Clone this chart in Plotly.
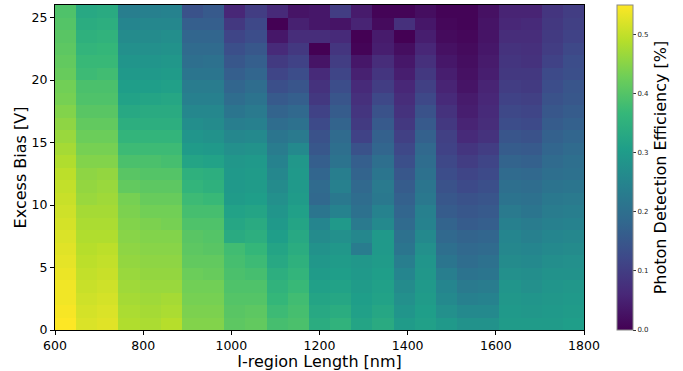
import numpy as np
import plotly.graph_objects as go

# Bin edges of the grid
length_edges = [600, 648, 696, 744, 792, 840, 888, 936, 984, 1032, 1080, 1128, 1176,
                1224, 1272, 1320, 1368, 1416, 1464, 1512, 1560, 1608, 1656, 1704, 1752, 1800]
bias_edges = list(range(0, 27))

x_ticks = [600, 800, 1000, 1200, 1400, 1600, 1800]
y_ticks = [0, 5, 10, 15, 20, 25]
cbar_ticks = [0.0, 0.1, 0.2, 0.3, 0.4, 0.5]

# PDE per I-region length bin, listed from 0 V (bottom) to 25 V (top)
pde_600 = [0.55, 0.545, 0.54, 0.54, 0.535, 0.53, 0.525, 0.52, 0.515, 0.51, 0.505, 0.50, 0.495,
           0.485, 0.475, 0.465, 0.455, 0.445, 0.435, 0.43, 0.42, 0.415, 0.41, 0.405, 0.40, 0.395]
pde_648 = [0.52, 0.515, 0.51, 0.505, 0.50, 0.495, 0.49, 0.485, 0.48, 0.475, 0.465, 0.46, 0.455,
           0.445, 0.435, 0.425, 0.415, 0.405, 0.395, 0.39, 0.375, 0.37, 0.36, 0.35, 0.34, 0.33]
pde_696 = [0.525, 0.52, 0.515, 0.51, 0.505, 0.50, 0.495, 0.485, 0.48, 0.475, 0.47, 0.465, 0.46,
           0.445, 0.435, 0.425, 0.415, 0.405, 0.395, 0.39, 0.38, 0.37, 0.365, 0.355, 0.345, 0.335]
pde_744 = [0.485, 0.48, 0.475, 0.47, 0.465, 0.46, 0.455, 0.45, 0.445, 0.44, 0.435, 0.415, 0.405,
           0.39, 0.375, 0.36, 0.345, 0.33, 0.315, 0.305, 0.295, 0.285, 0.275, 0.265, 0.25, 0.235]
pde_792 = [0.48, 0.475, 0.47, 0.465, 0.46, 0.455, 0.45, 0.445, 0.44, 0.43, 0.42, 0.41, 0.40,
           0.39, 0.375, 0.36, 0.345, 0.335, 0.32, 0.305, 0.295, 0.285, 0.275, 0.265, 0.255, 0.24]
pde_840 = [0.49, 0.48, 0.475, 0.465, 0.46, 0.455, 0.45, 0.445, 0.435, 0.43, 0.42, 0.41, 0.40,
           0.385, 0.375, 0.36, 0.345, 0.335, 0.325, 0.31, 0.30, 0.29, 0.28, 0.27, 0.255, 0.245]
pde_888 = [0.445, 0.44, 0.435, 0.43, 0.425, 0.415, 0.41, 0.405, 0.395, 0.385, 0.375, 0.36, 0.35,
           0.32, 0.30, 0.285, 0.27, 0.255, 0.24, 0.23, 0.215, 0.20, 0.19, 0.18, 0.165, 0.14]
pde_936 = [0.445, 0.44, 0.435, 0.43, 0.42, 0.415, 0.405, 0.40, 0.395, 0.385, 0.37, 0.35, 0.345,
           0.315, 0.295, 0.28, 0.265, 0.255, 0.24, 0.23, 0.215, 0.205, 0.19, 0.18, 0.165, 0.155]
pde_984 = [0.41, 0.405, 0.40, 0.395, 0.39, 0.385, 0.38, 0.335, 0.325, 0.315, 0.30, 0.295, 0.295,
           0.29, 0.275, 0.255, 0.235, 0.215, 0.195, 0.18, 0.165, 0.15, 0.135, 0.115, 0.09, 0.06]
pde_1032 = [0.415, 0.41, 0.40, 0.395, 0.385, 0.375, 0.365, 0.345, 0.335, 0.32, 0.305, 0.30, 0.30,
            0.295, 0.28, 0.26, 0.24, 0.225, 0.21, 0.195, 0.18, 0.165, 0.15, 0.13, 0.12, 0.10]
pde_1080 = [0.385, 0.375, 0.365, 0.355, 0.345, 0.33, 0.32, 0.305, 0.295, 0.285, 0.275, 0.265, 0.255,
            0.245, 0.23, 0.215, 0.195, 0.175, 0.155, 0.135, 0.115, 0.095, 0.065, 0.035, 0.0, 0.065]
pde_1128 = [0.39, 0.385, 0.38, 0.37, 0.36, 0.35, 0.34, 0.33, 0.32, 0.31, 0.30, 0.295, 0.295,
            0.29, 0.26, 0.225, 0.205, 0.185, 0.165, 0.145, 0.13, 0.11, 0.09, 0.07, 0.05, 0.03]
pde_1176 = [0.34, 0.33, 0.32, 0.31, 0.30, 0.29, 0.28, 0.265, 0.25, 0.215, 0.185, 0.19, 0.18,
            0.165, 0.15, 0.14, 0.125, 0.11, 0.09, 0.08, 0.065, 0.03, 0.0, 0.07, 0.035, 0.035]
pde_1224 = [0.355, 0.34, 0.325, 0.315, 0.305, 0.30, 0.29, 0.275, 0.295, 0.245, 0.22, 0.24, 0.235,
            0.21, 0.20, 0.19, 0.175, 0.16, 0.145, 0.13, 0.115, 0.10, 0.085, 0.065, 0.03, 0.10]
pde_1272 = [0.32, 0.31, 0.305, 0.30, 0.295, 0.29, 0.23, 0.255, 0.225, 0.205, 0.195, 0.185, 0.175,
            0.165, 0.14, 0.11, 0.095, 0.085, 0.075, 0.065, 0.05, 0.035, 0.005, 0.0, 0.055, 0.04]
pde_1320 = [0.335, 0.325, 0.315, 0.31, 0.305, 0.30, 0.295, 0.295, 0.26, 0.245, 0.22, 0.225, 0.215,
            0.20, 0.18, 0.17, 0.155, 0.14, 0.12, 0.10, 0.085, 0.07, 0.045, 0.04, 0.015, 0.005]
pde_1368 = [0.30, 0.285, 0.275, 0.265, 0.25, 0.235, 0.215, 0.205, 0.19, 0.18, 0.17, 0.16, 0.15,
            0.135, 0.12, 0.105, 0.09, 0.08, 0.07, 0.06, 0.045, 0.035, 0.02, 0.0, 0.075, 0.005]
pde_1416 = [0.31, 0.305, 0.30, 0.295, 0.29, 0.285, 0.275, 0.26, 0.245, 0.24, 0.22, 0.215, 0.205,
            0.195, 0.185, 0.17, 0.155, 0.14, 0.12, 0.105, 0.09, 0.075, 0.06, 0.045, 0.035, 0.02]
pde_1464 = [0.295, 0.275, 0.26, 0.25, 0.235, 0.215, 0.20, 0.185, 0.175, 0.16, 0.15, 0.14, 0.13,
            0.12, 0.11, 0.105, 0.09, 0.08, 0.065, 0.055, 0.045, 0.035, 0.025, 0.015, 0.01, 0.005]
pde_1512 = [0.28, 0.26, 0.24, 0.225, 0.21, 0.195, 0.185, 0.175, 0.16, 0.15, 0.14, 0.125, 0.115,
            0.10, 0.085, 0.065, 0.055, 0.045, 0.04, 0.03, 0.025, 0.02, 0.015, 0.01, 0.005, 0.005]
pde_1560 = [0.28, 0.26, 0.245, 0.23, 0.215, 0.205, 0.19, 0.18, 0.165, 0.155, 0.145, 0.135, 0.125,
            0.115, 0.10, 0.08, 0.07, 0.065, 0.06, 0.055, 0.045, 0.04, 0.035, 0.03, 0.03, 0.025]
pde_1608 = [0.30, 0.295, 0.29, 0.285, 0.275, 0.265, 0.255, 0.25, 0.24, 0.225, 0.21, 0.20, 0.19,
            0.175, 0.16, 0.145, 0.13, 0.12, 0.11, 0.10, 0.09, 0.085, 0.08, 0.07, 0.06, 0.055]
pde_1656 = [0.30, 0.29, 0.285, 0.275, 0.27, 0.26, 0.25, 0.24, 0.23, 0.215, 0.205, 0.195, 0.185,
            0.17, 0.155, 0.14, 0.125, 0.115, 0.105, 0.095, 0.09, 0.08, 0.075, 0.07, 0.065, 0.055]
pde_1704 = [0.30, 0.295, 0.29, 0.285, 0.28, 0.27, 0.26, 0.25, 0.24, 0.23, 0.22, 0.21, 0.20,
            0.19, 0.18, 0.17, 0.16, 0.15, 0.14, 0.13, 0.125, 0.11, 0.10, 0.095, 0.09, 0.085]
pde_1752 = [0.305, 0.30, 0.295, 0.29, 0.28, 0.275, 0.265, 0.255, 0.245, 0.235, 0.225, 0.215, 0.205,
            0.20, 0.19, 0.18, 0.17, 0.16, 0.15, 0.145, 0.135, 0.13, 0.12, 0.11, 0.105, 0.10]

columns = [pde_600, pde_648, pde_696, pde_744, pde_792, pde_840, pde_888, pde_936, pde_984,
           pde_1032, pde_1080, pde_1128, pde_1176, pde_1224, pde_1272, pde_1320, pde_1368,
           pde_1416, pde_1464, pde_1512, pde_1560, pde_1608, pde_1656, pde_1704, pde_1752]
z = np.array(columns).T  # rows = bias, cols = length

font_family = "DejaVu Sans"

fig = go.Figure(go.Heatmap(
    x=length_edges, y=bias_edges, z=z,
    colorscale="Viridis", zmin=0.0, zmax=0.55,
    colorbar=dict(
        x=1.0624, xanchor="left", xref="paper", xpad=0,
        y=0.5, yanchor="middle", len=1.0, lenmode="fraction", ypad=0,
        thickness=16, outlinewidth=1, outlinecolor="#888888",
        tickvals=cbar_ticks, tickformat=".1f",
        ticks="outside", ticklen=3, tickwidth=0.8, tickcolor="#333333",
        tickfont=dict(family=font_family, size=7, color="#222222"),
        title=dict(text="Photon Detection Efficiency [%]", side="right",
                   font=dict(family=font_family, size=16, color="black")),
    ),
))

fig.update_layout(
    width=683, height=371,
    margin=dict(l=55, r=99, t=5, b=41, autoexpand=False),
    paper_bgcolor="white", plot_bgcolor="white",
    font=dict(family=font_family, color="black"),
    xaxis=dict(
        range=[600, 1800], tickvals=x_ticks, ticks="outside", ticklen=4, tickwidth=1,
        tickcolor="black", showline=True, linecolor="black", linewidth=1, mirror=True,
        showgrid=False, zeroline=False, automargin=False,
        tickfont=dict(family=font_family, size=12.5, color="black"),
        title=dict(text="I-region Length [nm]", standoff=3,
                   font=dict(family=font_family, size=16, color="black")),
    ),
    yaxis=dict(
        range=[0, 26], tickvals=y_ticks, ticks="outside", ticklen=4, tickwidth=1,
        tickcolor="black", showline=True, linecolor="black", linewidth=1, mirror=True,
        showgrid=False, zeroline=False, automargin=False,
        tickfont=dict(family=font_family, size=12.5, color="black"),
        title=dict(text="Excess Bias [V]", standoff=0,
                   font=dict(family=font_family, size=16, color="black")),
    ),
)

fig.write_html("out.html", config={"displayModeBar": False},
               post_script="document.body.style.margin='0';document.body.style.overflow='hidden';")
